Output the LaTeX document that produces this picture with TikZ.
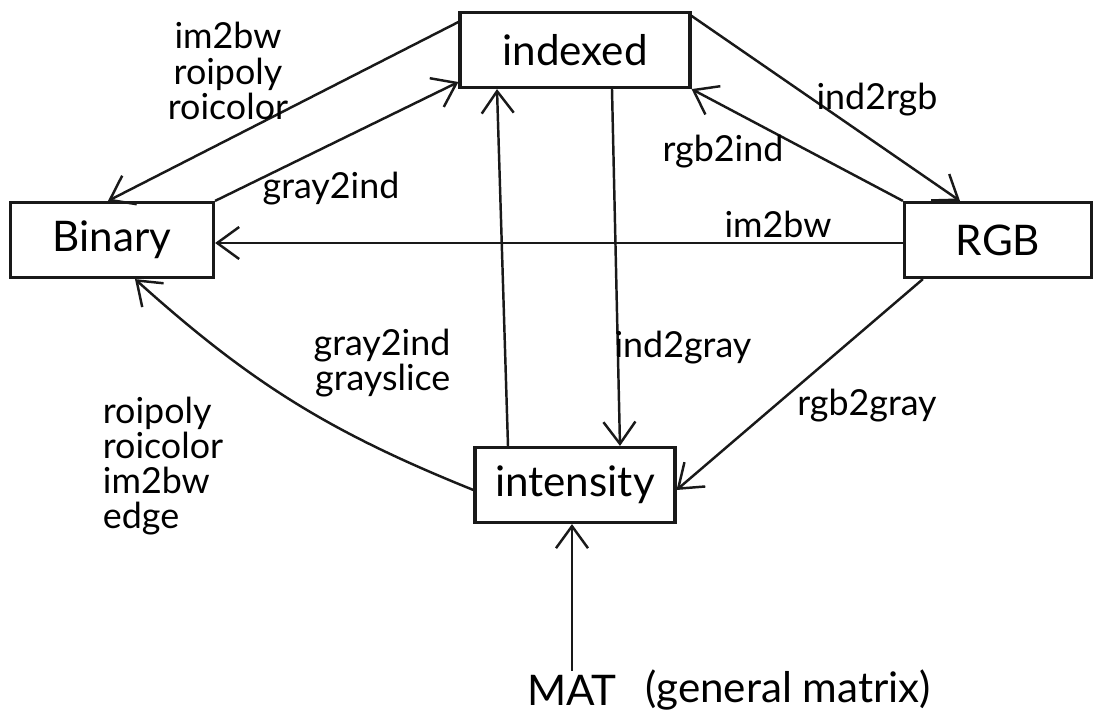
\documentclass[tikz,border=0pt]{standalone}
\usepackage{fontspec}
\setmainfont{Lato}
\usepackage{tikz}
\usetikzlibrary{arrows.meta, positioning}
\definecolor{inkblack}{RGB}{25,25,25}
\tikzset{
  imgbox/.style={rectangle, draw=inkblack, line width=0.9pt,
    minimum height=0.75cm, font=\large, inner sep=2pt},
  conv/.style={-{Straight Barb[length=2.2mm,width=3.2mm]}, line width=0.7pt, color=inkblack},
  fname/.style={font=\fontsize{10.2}{10}\selectfont, align=center, inner sep=1pt}
}

\begin{document}
\begin{tikzpicture}
  \useasboundingbox (0,0) rectangle (11.07,7.21);
  \node[imgbox, minimum width=2.3cm] (indexed) at (5.75,6.71) {indexed};
  \node[imgbox, minimum width=2.03cm] (binary) at (1.12,4.81) {Binary};
  \node[imgbox, minimum width=1.87cm] (rgb) at (9.98,4.81) {RGB};
  \node[imgbox, minimum width=2.0cm] (intensity) at (5.75,2.36) {intensity};
  \node[font=\large, inner sep=1pt] (mat) at (5.72,0.31) {MAT};
  \node[font=\large, inner sep=1pt, right=0.2cm of mat] (general) {(general matrix)};

  \draw[conv] ([yshift=0.28cm]indexed.west) -- ([xshift=-0.04cm]binary.north);
  \draw[conv] (binary.north east) -- ([yshift=-0.32cm]indexed.west);
  \draw[conv] ([yshift=-0.05cm]indexed.north east) -- ([xshift=-0.38cm]rgb.north);
  \draw[conv] (rgb.north west) -- (indexed.south east);
  \draw[conv] ([yshift=-0.03cm]rgb.west) -- ([yshift=-0.03cm]binary.east);
  \draw[conv] ([xshift=-0.67cm]intensity.north) -- ([xshift=-0.78cm]indexed.south);
  \draw[conv] ([xshift=0.37cm]indexed.south) -- ([xshift=0.45cm]intensity.north);
  \draw[conv] ([xshift=0.2cm]rgb.south west) -- ([yshift=-0.05cm]intensity.east);
  \draw[conv] ([yshift=-0.05cm]intensity.west) to[bend left=10] ([xshift=0.23cm]binary.south);
  \draw[conv] (mat.north) -- (mat.north |- intensity.south);

  \node[fname] (lblbw) at (2.28,6.50) {im2bw\\roipoly\\roicolor};
  \node[fname] (lblg2i) at (3.31,5.32) {gray2ind};
  \node[fname] (lbli2r) at (8.77,6.21) {ind2rgb};
  \node[fname] (lblr2i) at (7.23,5.69) {rgb2ind};
  \node[fname] (lblr2bw) at (7.78,4.97) {im2bw};
  \node[fname, align=right] (lblgs) at (3.82,3.58) {gray2ind\\grayslice};
  \node[fname] (lbli2g) at (6.83,3.73) {ind2gray};
  \node[fname] (lblr2g) at (8.67,3.15) {rgb2gray};
  \node[fname, align=left] (lblroi) at (1.63,2.55) {roipoly\\roicolor\\im2bw\\edge};
\end{tikzpicture}
\end{document}
